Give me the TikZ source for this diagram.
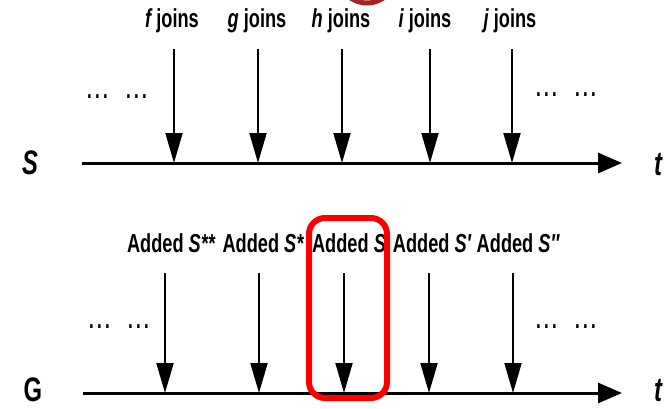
\documentclass[tikz,border=0pt]{standalone}
\usepackage{fontspec}
\setmainfont{Liberation Sans}[FakeStretch=0.7]
\usetikzlibrary{arrows.meta}
\tikzset{
  lbl/.style={inner sep=0pt, anchor=base, font=\fontsize{26}{28}\selectfont\bfseries},
  axislbl/.style={inner sep=0pt, anchor=base, font=\fontsize{34}{36}\selectfont\bfseries},
  dots/.style={inner sep=0pt, anchor=base, font=\fontsize{36}{38}\selectfont},
  axis/.style={line width=3pt, -{Triangle[length=24pt,width=20pt]}},
  evt/.style={line width=2pt, -{Triangle[length=30pt,width=17pt]}},
  hl/.style={draw=red, line width=6pt, rounded corners=16pt},
}
\begin{document}
\begin{tikzpicture}[x=1pt,y=-1pt]
\useasboundingbox (0,0) rectangle (671,409);
% partial dark-red circle cut off at top
\draw[draw={rgb,255:red,165;green,35;blue,30}, line width=5pt] (367,-24) circle[x radius=28, y radius=27];

% top timeline
\node[axislbl] (S) at (30,174) {\itshape S};
\node[axislbl] (t1) at (658,175) {\itshape t};
\coordinate (a1s) at (82,163);
\coordinate (a1e) at (622,163);
\draw[axis] (a1s) -- (a1e);
\node[dots] (d1) at (117,99) {…\hspace{14pt}…};
\node[dots] (d2) at (566,97) {…\hspace{14pt}…};

\foreach \n/\x/\lx in {f/174/172, g/258/257, h/342/341, i/430/425, j/512/510}{
  \node[lbl] (L\n) at (\lx,28) {{\itshape\n}\ joins};
  \coordinate (T\n) at (\x,49);
  \coordinate (B\n) at (\x,163);
  \draw[evt] (T\n) -- (B\n);
}

% bottom timeline
\node[axislbl] (G) at (33,401) {G};
\node[axislbl] (t2) at (658,401) {\itshape t};
\coordinate (a2s) at (83,393);
\coordinate (a2e) at (622,393);
\draw[axis] (a2s) -- (a2e);
\node[dots] (d3) at (119,328) {…\hspace{14pt}…};
\node[dots] (d4) at (566,328) {…\hspace{14pt}…};

\foreach \n/\x/\lx/\sup in {a/165/171/**, b/259/263/*, c/344/349/, d/429/432/′, e/513/518/″}{
  \node[lbl] (M\n) at (\lx,252) {Added {\itshape S\sup}};
  \coordinate (U\n) at (\x,273);
  \coordinate (V\n) at (\x,393);
  \draw[evt] (U\n) -- (V\n);
}

% highlight box
\coordinate (hl1) at (309,218);
\coordinate (hl2) at (387,398);
\draw[hl] (hl1) rectangle (hl2);
\end{tikzpicture}
\end{document}
